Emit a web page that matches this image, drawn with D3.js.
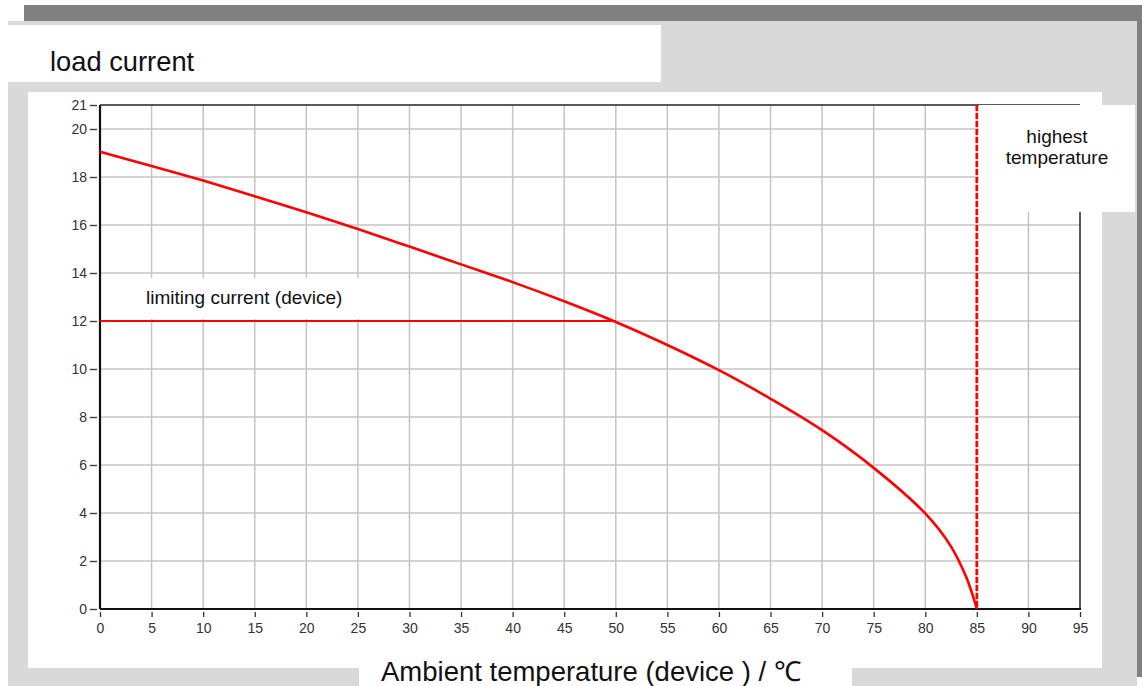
<!DOCTYPE html>
<html>
<head>
<meta charset="utf-8">
<script src="https://cdn.jsdelivr.net/npm/d3@7"></script>
<style>
  body { margin: 0; background: #fff; }
  svg { display: block; font-family: "Liberation Sans", Arial, sans-serif; }
</style>
</head>
<body>
<div class="canvas"></div>
<script>
// derating curve: ambient temperature (C) -> load current (A)
const temps    = [0, 5, 10, 15, 20, 25, 30, 35, 40, 45, 50, 55, 60, 65, 70, 75, 80, 82.5, 84, 84.5, 85];
const currents = [19.05, 18.46, 17.85, 17.2, 16.53, 15.83, 15.1, 14.36, 13.62, 12.82, 11.96, 11.0, 9.95, 8.76, 7.45, 5.88, 3.98, 2.6, 1.3, 0.7, 0];
const xTicks = [0, 5, 10, 15, 20, 25, 30, 35, 40, 45, 50, 55, 60, 65, 70, 75, 80, 85, 90, 95];
const yTicks = [0, 2, 4, 6, 8, 10, 12, 14, 16, 18, 20, 21];
const limitCurrent = 12;
const limitTemp = 50;
const maxTemp = 85;

const svgWidth = 1142;
const svgHeight = 686;
const margins = { top: 105, bottom: 77, left: 100, right: 62 };
const graphWidth = svgWidth - margins.left - margins.right;
const graphHeight = svgHeight - margins.top - margins.bottom;

const svg = d3.select('.canvas')
    .append('svg')
        .attr('width', svgWidth)
        .attr('height', svgHeight);

// background panels
svg.append('rect').attr('x', 24).attr('y', 5).attr('width', 1118).attr('height', 16).attr('fill', '#808080');
svg.append('rect').attr('x', 1137).attr('y', 5).attr('width', 5).attr('height', 672).attr('fill', '#808080');
svg.append('rect').attr('x', 8).attr('y', 21).attr('width', 1129).attr('height', 665).attr('fill', '#d9d9d9');
svg.append('rect').attr('x', 8).attr('y', 25).attr('width', 653).attr('height', 57).attr('fill', '#fff');
svg.append('rect').attr('x', 28).attr('y', 92).attr('width', 1074).attr('height', 576).attr('fill', '#fff');
svg.append('rect').attr('x', 359).attr('y', 668).attr('width', 493).attr('height', 18).attr('fill', '#fff');

svg.append('text')
    .attr('x', 50).attr('y', 71)
    .attr('font-size', 27.3)
    .attr('fill', '#111')
    .text('load current');

const graph = svg.append('g')
    .attr('transform', `translate(${margins.left},${margins.top})`);

const x = d3.scaleLinear().domain([0, 95]).range([0, graphWidth]);
const y = d3.scaleLinear().domain([0, 21]).range([graphHeight, 0]);

// grid
graph.append('g').selectAll('line')
    .data(xTicks.filter(d => d > 0 && d < 95))
    .join('line')
        .attr('x1', d => x(d)).attr('x2', d => x(d))
        .attr('y1', 0).attr('y2', graphHeight)
        .attr('stroke', '#c4c4c4').attr('stroke-width', 1.5);
graph.append('g').selectAll('line')
    .data(yTicks.filter(d => d > 0 && d < 21))
    .join('line')
        .attr('x1', 0).attr('x2', graphWidth)
        .attr('y1', d => y(d)).attr('y2', d => y(d))
        .attr('stroke', '#c4c4c4').attr('stroke-width', 1.5);

// frame
graph.append('line').attr('x1', 0).attr('x2', graphWidth).attr('y1', y(21)).attr('y2', y(21))
    .attr('stroke', '#222').attr('stroke-width', 1.5);
graph.append('line').attr('x1', graphWidth).attr('x2', graphWidth).attr('y1', 0).attr('y2', graphHeight)
    .attr('stroke', '#222').attr('stroke-width', 1.5);

// axes
const xAxis = d3.axisBottom(x).tickValues(xTicks).tickSize(5).tickPadding(6);
const yAxis = d3.axisLeft(y).tickValues(yTicks).tickSize(7).tickPadding(3);

const xAxisGroup = graph.append('g')
    .attr('transform', `translate(0,${graphHeight + 3})`)
    .call(xAxis);
const yAxisGroup = graph.append('g')
    .attr('transform', 'translate(-3,0)')
    .call(yAxis);

[xAxisGroup, yAxisGroup].forEach(g => {
    g.select('.domain').remove();
    g.selectAll('line').attr('stroke', '#333').attr('stroke-width', 1.3);
    g.selectAll('text').attr('font-size', 14).attr('fill', '#333').attr('font-family', '"Liberation Sans", Arial, sans-serif');
});

graph.append('line').attr('x1', 0).attr('x2', graphWidth + 1).attr('y1', graphHeight).attr('y2', graphHeight)
    .attr('stroke', '#111').attr('stroke-width', 2.2);
graph.append('line').attr('x1', 0).attr('x2', 0).attr('y1', 0).attr('y2', graphHeight)
    .attr('stroke', '#111').attr('stroke-width', 2.2);

// label box for limiting current
graph.append('rect')
    .attr('x', 2).attr('y', y(13.8))
    .attr('width', 279).attr('height', y(limitCurrent) - y(13.8) - 2)
    .attr('fill', '#fff');
graph.append('text')
    .attr('x', 46).attr('y', y(12.7))
    .attr('font-size', 19).attr('fill', '#111')
    .text('limiting current (device)');

// limit line
graph.append('line')
    .attr('x1', x(0)).attr('x2', x(limitTemp))
    .attr('y1', y(limitCurrent)).attr('y2', y(limitCurrent))
    .attr('stroke', '#ff0000').attr('stroke-width', 2);

// derating curve
const line = d3.line()
    .x((d, i) => x(temps[i]))
    .y(d => y(d))
    .curve(d3.curveCatmullRom.alpha(0.5));

graph.append('path')
    .datum(currents)
    .attr('fill', 'none')
    .attr('stroke', '#ff0000')
    .attr('stroke-width', 2.6)
    .attr('d', line);

// highest temperature
graph.append('line')
    .attr('x1', x(maxTemp)).attr('x2', x(maxTemp))
    .attr('y1', y(21)).attr('y2', y(0))
    .attr('stroke', '#ff0000').attr('stroke-width', 2.8)
    .attr('stroke-dasharray', '6,2');

graph.append('rect')
    .attr('x', x(maxTemp) + 2).attr('y', 0)
    .attr('width', 1135 - margins.left - x(maxTemp) - 2).attr('height', 107)
    .attr('fill', '#fff');
const hiText = graph.append('text')
    .attr('x', 957).attr('y', 38)
    .attr('text-anchor', 'middle')
    .attr('font-size', 19).attr('fill', '#111');
hiText.append('tspan').attr('x', 957).attr('dy', 0).text('highest');
hiText.append('tspan').attr('x', 957).attr('dy', 21).text('temperature');

// x axis title
svg.append('text')
    .attr('x', 381).attr('y', 681)
    .attr('font-size', 27.5).attr('fill', '#111')
    .text('Ambient temperature (device ) / ℃');
</script>
</body>
</html>
